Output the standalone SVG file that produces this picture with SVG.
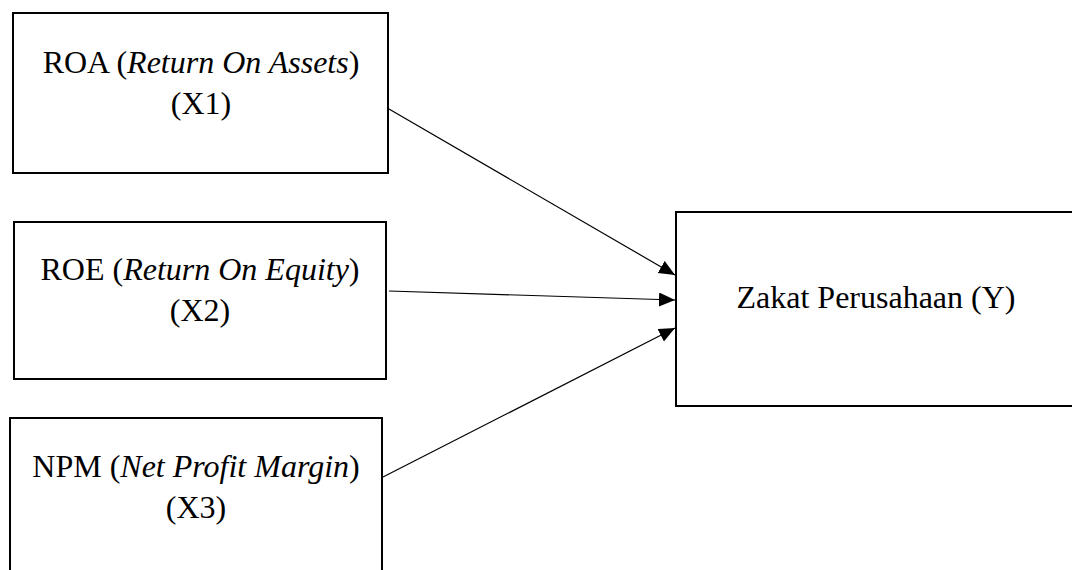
<svg xmlns="http://www.w3.org/2000/svg" width="1072" height="570" viewBox="0 0 1072 570">
<style>
.box{fill:#fff;stroke:#000;stroke-width:2}
.t{font-family:"Liberation Serif","Times New Roman",serif;font-size:32px;fill:#000;text-anchor:middle}
.i{font-style:italic}
.c{fill:none;stroke:#000;stroke-width:1.2}
</style>
<defs>
<marker id="ah" markerUnits="userSpaceOnUse" markerWidth="18" markerHeight="16" refX="16" refY="7" orient="auto">
<path d="M0,0 L16,7 L0,14 z" fill="#000"/>
</marker>
</defs>
<rect width="1072" height="570" fill="#fff"/>
<g id="x1">
<rect class="box" x="13" y="13" width="375" height="160"/>
<text class="t" x="201" y="73">ROA (<tspan class="i">Return On Assets</tspan>)</text>
<text class="t" x="201" y="114">(X1)</text>
</g>
<g id="x2">
<rect class="box" x="14" y="222" width="372" height="157"/>
<text class="t" x="200" y="280">ROE (<tspan class="i">Return On Equity</tspan>)</text>
<text class="t" x="200" y="321">(X2)</text>
</g>
<g id="x3">
<rect class="box" x="10" y="418" width="372" height="170"/>
<text class="t" x="196" y="477">NPM (<tspan class="i">Net Profit Margin</tspan>)</text>
<text class="t" x="196" y="518">(X3)</text>
</g>
<g id="y">
<rect class="box" x="676" y="212" width="400" height="194"/>
<text class="t" x="876" y="308">Zakat Perusahaan (Y)</text>
</g>
<g id="connectors">
<line class="c" x1="389" y1="109" x2="675" y2="275" marker-end="url(#ah)"/>
<line class="c" x1="389" y1="291" x2="675" y2="300" marker-end="url(#ah)"/>
<line class="c" x1="383" y1="477" x2="675" y2="328" marker-end="url(#ah)"/>
</g>
</svg>
